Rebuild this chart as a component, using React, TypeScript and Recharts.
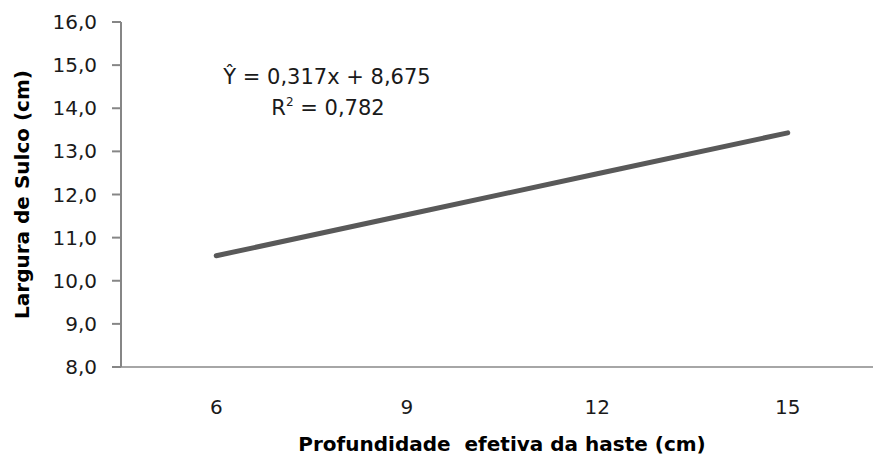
import React from 'react';
import { LineChart, Line, XAxis, YAxis, Label } from 'recharts';

const depths = ['6', '9', '12', '15'];
const widths = [10.58, 11.53, 12.48, 13.43];
const yTicks = [8, 9, 10, 11, 12, 13, 14, 15, 16];
const equationLine = 'Ŷ = 0,317x + 8,675';
const r2Label = 'R';
const r2Value = ' = 0,782';

const data = depths.map((d, i) => ({ depth: d, width: widths[i] }));

const FONT = '"DejaVu Sans", Verdana, sans-serif';

const fmt = (v: number) => v.toFixed(1).replace('.', ',');

export default function App() {
  return (
    <div
      style={{
        position: 'absolute',
        left: 0,
        top: 0,
        width: 873,
        height: 461,
        overflow: 'hidden',
        background: '#ffffff',
      }}
    >
      <LineChart
        width={884}
        height={461}
        data={data}
        margin={{ top: 22, right: 1, bottom: 0, left: 0 }}
      >
        <XAxis
          dataKey="depth"
          scale="band"
          height={94}
          axisLine={{ stroke: '#a6a6a6', strokeWidth: 2 }}
          tickLine={false}
          tickSize={0}
          tickMargin={33}
          tick={{ fontFamily: FONT, fontSize: 20, fill: '#1a1a1a' }}
        >
          <Label
            value={'Profundidade\u00a0 efetiva da haste (cm)'}
            position="insideBottom"
            offset={10}
            style={{ fontFamily: FONT, fontSize: 20, fontWeight: 'bold', fill: '#000' }}
          />
        </XAxis>
        <YAxis
          domain={[8, 16]}
          ticks={yTicks}
          interval={0}
          width={121}
          tickFormatter={fmt}
          axisLine={{ stroke: '#868686', strokeWidth: 2 }}
          tickLine={{ stroke: '#868686', strokeWidth: 2 }}
          tickSize={9}
          tickMargin={15}
          tick={{ fontFamily: FONT, fontSize: 20, fill: '#1a1a1a' }}
        >
          <Label
            value="Largura de Sulco (cm)"
            angle={-90}
            position="insideLeft"
            offset={0}
            style={{ fontFamily: FONT, fontSize: 20, fontWeight: 'bold', fill: '#000', textAnchor: 'middle' }}
            dx={22}
          />
        </YAxis>
        <Line
          type="linear"
          dataKey="width"
          stroke="#595959"
          strokeWidth={5}
          strokeLinecap="round"
          dot={false}
          activeDot={false}
          isAnimationActive={false}
        />
      </LineChart>
      <svg
        width={873}
        height={461}
        style={{ position: 'absolute', left: 0, top: 0, pointerEvents: 'none' }}
      >
        <text x={327} y={84} textAnchor="middle" fontFamily={FONT} fontSize={21} fill="#1a1a1a">
          {equationLine}
        </text>
        <text x={328} y={115} textAnchor="middle" fontFamily={FONT} fontSize={21} fill="#1a1a1a">
          {r2Label}
          <tspan fontSize={12} dy={-9}>2</tspan>
          <tspan dy={9}>{r2Value}</tspan>
        </text>
      </svg>
    </div>
  );
}
